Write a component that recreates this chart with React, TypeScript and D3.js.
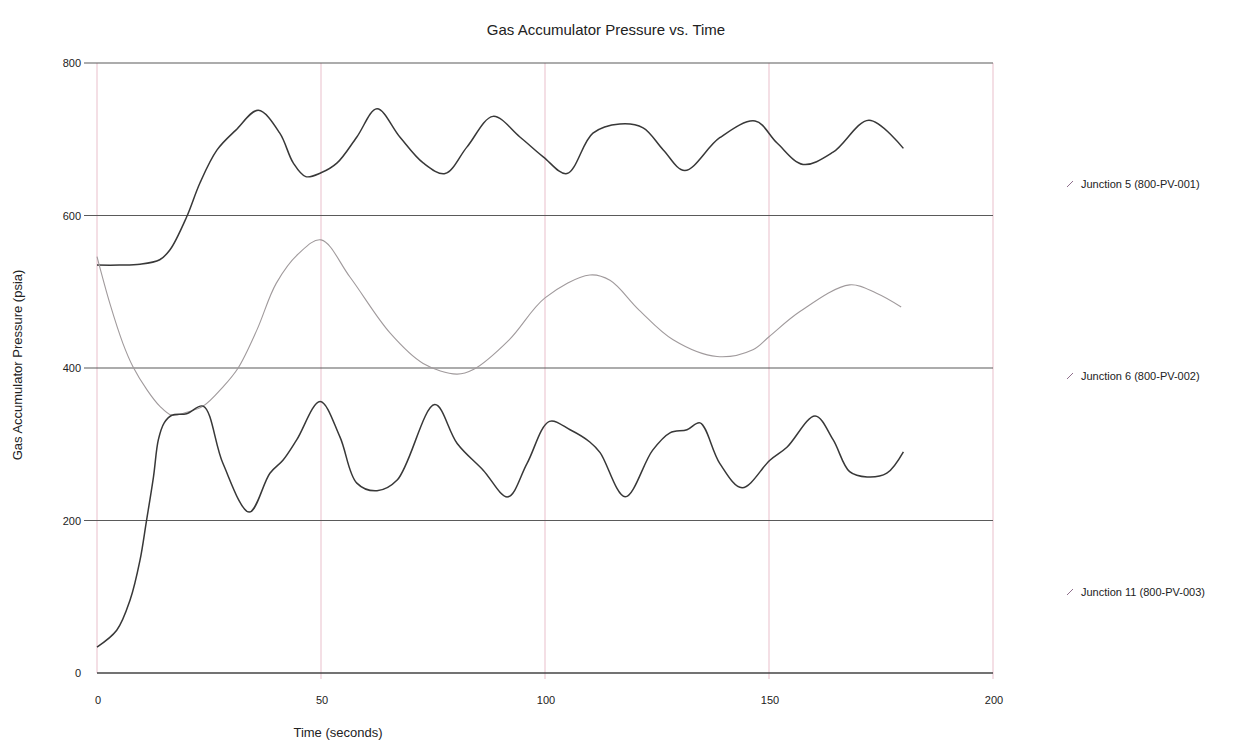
import React from "react";
import * as d3 from "d3";

const title = "Gas Accumulator Pressure vs. Time";
const xLabel = "Time (seconds)";
const yLabel = "Gas Accumulator Pressure (psia)";
const xTicks = [0, 50, 100, 150, 200];
const yTicks = [0, 200, 400, 600, 800];

const seriesNames = ["Junction 5 (800-PV-001)", "Junction 6 (800-PV-002)", "Junction 11 (800-PV-003)"];

const j5T = [0, 5, 9.6, 14, 16.3, 20, 23, 26.8, 31, 36, 40.8, 43.8, 46.6, 50, 53.6, 58, 62.5, 67.6, 72.8, 77.7, 82.6, 88.4, 94.4, 99.6, 104.9, 110.7, 116.7, 121.9, 126.4, 131.2, 139, 146.9, 151.8, 157.6, 164.3, 172.3, 180];
const j5V = [535, 535, 536, 542, 555, 598, 643, 686, 712, 738, 708, 669, 651, 656, 669, 703, 740, 703, 669, 655, 690, 730, 703, 677, 655, 708, 720, 715, 686, 659, 702, 724, 695, 667, 683, 725, 688];

const j6T = [0, 2.9, 5.8, 8, 11.2, 14, 16.7, 20, 23.7, 28.1, 31.5, 35.7, 40, 45, 50, 56.5, 65.4, 72.8, 80.3, 84, 92, 100, 110, 114.5, 121, 128.6, 138.4, 146.4, 150, 156.9, 168, 174, 179.5];
const j6V = [546, 484, 432, 402, 371, 350, 338, 342, 350, 375, 400, 450, 511, 550, 568, 519, 446, 406, 392, 398, 437, 492, 522, 515, 476, 437, 415, 424, 441, 474, 509, 498, 480];

const j11T = [0, 4.4, 7.4, 9.6, 11, 12.6, 13.7, 15, 16.7, 20, 23.7, 28.1, 34, 38.6, 41.5, 44.6, 49.8, 54.2, 58, 62.5, 67, 75.4, 80.4, 86.2, 91.7, 96, 101, 105.6, 110, 112.3, 117.9, 124, 127.9, 131.7, 134.6, 139, 144, 150.2, 154, 160.3, 164.3, 168, 171.9, 176.3, 180];
const j11V = [34, 56, 96, 148, 198, 257, 306, 328, 338, 340, 350, 275, 211, 262, 279, 306, 356, 310, 249, 239, 253, 352, 301, 266, 231, 275, 330, 319, 303, 289, 231, 292, 315, 319, 328, 275, 243, 279, 296, 337, 306, 264, 257, 262, 290];

const W = 1246;
const H = 745;

export default function App() {
  const x = d3.scaleLinear().domain([0, 200]).range([97, 993]);
  const y = d3.scaleLinear().domain([0, 800]).range([673, 63]);

  const mk = (t: number[], v: number[]) =>
    d3
      .line<number>()
      .x((_, i) => x(t[i]))
      .y((d) => y(d))
      .curve(d3.curveCatmullRom.alpha(0.5))(v) || "";

  const series = [
    { name: seriesNames[0], d: mk(j5T, j5V), color: "#383838", w: 1.5, ly: 184 },
    { name: seriesNames[1], d: mk(j6T, j6V), color: "#a09a9c", w: 1.1, ly: 376 },
    { name: seriesNames[2], d: mk(j11T, j11V), color: "#383838", w: 1.5, ly: 592 },
  ];

  const font = "Arial, 'Liberation Sans', sans-serif";

  return (
    <svg
      width={W}
      height={H}
      style={{ position: "absolute", left: 0, top: 0, background: "#fff" }}
      fontFamily={font}
    >
      <rect x={0} y={0} width={W} height={H} fill="#fff" />
      <text x={606} y={35} textAnchor="middle" fontSize={15} fill="#222">
        {title}
      </text>

      {/* vertical gridlines */}
      {xTicks.map((t) => (
        <line
          key={"v" + t}
          x1={x(t)}
          x2={x(t)}
          y1={y(800)}
          y2={y(0) + (t === 0 ? 0 : 6)}
          stroke="#e9bfcb"
          strokeWidth={1}
        />
      ))}
      {/* horizontal gridlines */}
      {yTicks.map((t) => (
        <line
          key={"h" + t}
          x1={t === 0 ? x(0) : 84}
          x2={x(200)}
          y1={y(t)}
          y2={y(t)}
          stroke={t === 0 ? "#444" : "#5a5a5a"}
          strokeWidth={t === 0 ? 1.4 : 1.1}
        />
      ))}

      {/* y tick labels */}
      {yTicks.map((t) => (
        <text key={"yl" + t} x={81} y={y(t) + 4} textAnchor="end" fontSize={11} fill="#222">
          {t}
        </text>
      ))}
      {/* x tick labels */}
      {xTicks.map((t) => (
        <text key={"xl" + t} x={x(t) + 1} y={704} textAnchor="middle" fontSize={11} fill="#222">
          {t}
        </text>
      ))}

      <text x={338} y={737} textAnchor="middle" fontSize={13} fill="#222">
        {xLabel}
      </text>
      <text
        transform={`translate(22, 365) rotate(-90)`}
        textAnchor="middle"
        fontSize={13}
        fill="#222"
      >
        {yLabel}
      </text>

      {series.map((s) => (
        <path key={s.name} d={s.d} fill="none" stroke={s.color} strokeWidth={s.w} strokeLinejoin="round" />
      ))}

      {/* legend */}
      {series.map((s) => (
        <g key={"lg" + s.name}>
          <line x1={1067} y1={s.ly + 3} x2={1073} y2={s.ly - 3} stroke="#8f6f8c" strokeWidth={1} />
          <text x={1081} y={s.ly + 4} fontSize={11} fill="#222">
            {s.name}
          </text>
        </g>
      ))}
    </svg>
  );
}
